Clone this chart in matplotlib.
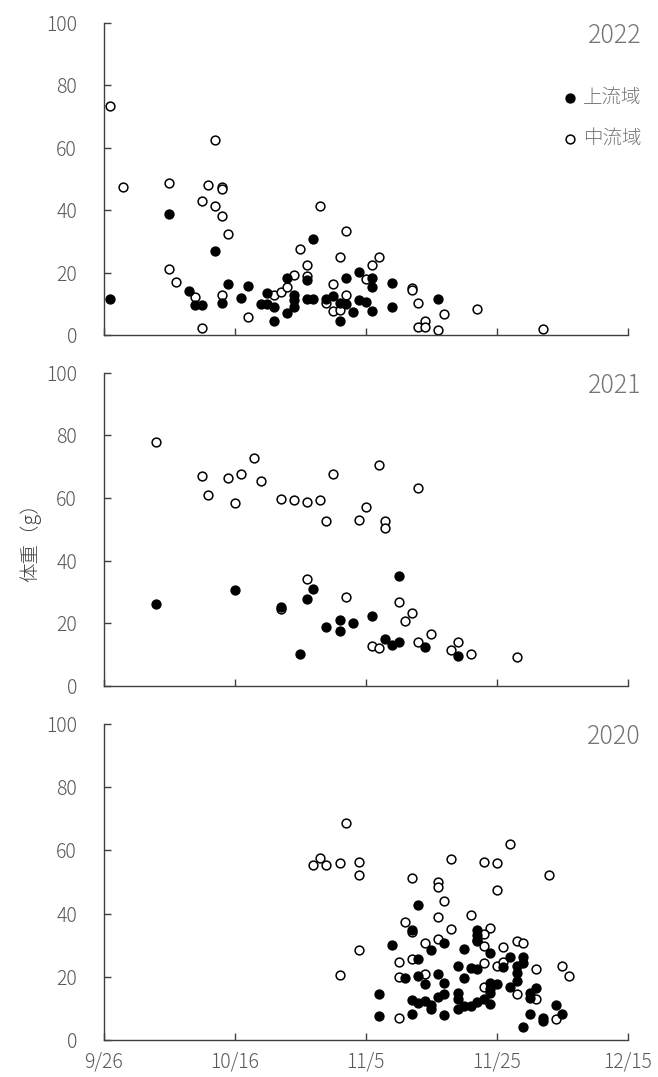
import matplotlib
matplotlib.use('Agg')
import matplotlib.pyplot as plt

plt.rcParams['font.family'] = ['Noto Sans CJK JP', 'DejaVu Sans']
plt.rcParams['font.weight'] = 'light'

# x = 9/26 からの日数
xticks = [0, 20, 40, 60, 80]
xtick_labels = ['9/26', '10/16', '11/5', '11/25', '12/15']
yticks = [0, 20, 40, 60, 80, 100]

# 2022
up22_day = [1, 10, 13, 14, 15, 17, 18, 19, 21, 22, 24, 25, 25, 26, 26, 28, 28, 29, 29, 29,
            31, 31, 32, 32, 34, 35, 36, 36, 37, 37, 38, 39, 39, 40, 41, 41, 41, 44, 44, 51]
up22_w = [11.5, 38.8, 14.2, 9.5, 9.5, 26.9, 10.3, 16.2, 11.9, 15.8, 9.8, 13.5, 9.8, 8.9, 4.4,
          18.1, 6.9, 12.9, 11.2, 8.9, 17.6, 11.5, 11.5, 30.6, 11.5, 12.5, 10.1, 4.4, 18.1, 9.8,
          7.3, 20.3, 11.2, 10.6, 18.1, 15.3, 7.8, 16.7, 8.9, 11.5]
mid22_day = [1, 3, 10, 10, 11, 14, 15, 15, 16, 17, 17, 18, 18, 18, 18, 19, 22, 26, 27, 28,
             29, 30, 31, 31, 33, 34, 35, 35, 36, 36, 37, 37, 40, 41, 42, 47, 47, 48, 48, 49,
             49, 51, 52, 57, 67]
mid22_w = [73.3, 47.3, 48.6, 21.0, 16.9, 12.3, 2.1, 43.0, 48.1, 62.4, 41.3, 47.3, 46.7, 38.2,
           12.9, 32.2, 5.8, 12.9, 13.7, 15.5, 19.2, 27.5, 22.3, 18.9, 41.3, 10.1, 16.3, 7.8,
           24.9, 8.0, 33.4, 12.9, 17.8, 22.3, 25.1, 14.9, 14.4, 10.3, 2.7, 4.5, 2.7, 1.6, 6.7,
           8.3, 1.8]

# 2021
up21_day = [8, 20, 27, 30, 31, 32, 34, 36, 36, 38, 41, 43, 44, 45, 45, 49, 54]
up21_w = [26.3, 30.6, 25.3, 10.1, 27.7, 31.1, 18.7, 21.2, 17.7, 20.2, 22.3, 14.9, 13.1, 35.1,
          14.1, 12.6, 9.6]
mid21_day = [8, 15, 16, 19, 20, 21, 23, 24, 27, 29, 31, 33, 34, 35, 37, 31, 27, 39, 40, 41,
             42, 42, 43, 43, 45, 46, 47, 48, 48, 50, 53, 54, 56, 63]
mid21_w = [77.8, 67.1, 61.0, 66.5, 58.3, 67.7, 72.7, 65.4, 59.7, 59.4, 58.8, 59.4, 52.6, 67.6,
           28.5, 34.1, 24.5, 52.9, 57.2, 12.7, 70.7, 12.0, 52.6, 50.4, 26.9, 20.9, 23.2, 63.3,
           14.0, 16.6, 11.5, 14.1, 10.2, 9.4]

# 2020
up20_day = [42, 42, 48, 47, 44, 52, 50, 55, 57, 57, 57, 59, 48, 54, 56, 57, 62, 64, 64, 63,
            61, 63, 63, 46, 48, 51, 55, 49, 52, 59, 59, 59, 60, 62, 54, 54, 52, 51, 47, 49,
            48, 50, 50, 54, 55, 56, 57, 58, 59, 65, 65, 66, 69, 47, 52, 65, 67, 67, 70, 64]
up20_w = [14.5, 7.6, 42.6, 34.8, 29.9, 30.6, 28.5, 28.8, 34.8, 33.2, 31.6, 27.4, 25.6, 23.5,
          22.9, 22.4, 26.1, 26.1, 24.3, 23.5, 23.2, 21.1, 18.7, 19.5, 20.3, 20.8, 19.7, 17.6,
          17.9, 17.9, 16.2, 14.8, 17.6, 16.7, 14.8, 13.0, 14.5, 13.7, 12.7, 12.3, 11.6, 11.1,
          9.7, 9.8, 10.8, 10.9, 12.1, 12.9, 11.4, 15.0, 13.2, 16.4, 11.2, 8.2, 7.9, 8.1, 6.9,
          6.1, 8.1, 4.2]
mid20_day = [32, 33, 34, 36, 37, 39, 39, 39, 36, 53, 47, 51, 51, 52, 58, 60, 60, 62, 68, 46,
             47, 51, 53, 56, 59, 58, 57, 58, 49, 51, 61, 63, 64, 45, 47, 58, 60, 61, 66, 70,
             71, 45, 49, 58, 63, 66, 45, 69]
mid20_w = [55.5, 57.7, 55.5, 55.9, 68.8, 56.4, 52.2, 28.5, 20.6, 57.4, 51.1, 50.1, 48.3, 44.0,
           56.4, 55.9, 47.4, 61.9, 52.3, 37.3, 34.3, 39.0, 35.2, 39.6, 35.5, 33.4, 31.4, 29.7,
           30.6, 31.9, 29.5, 31.2, 30.7, 24.6, 25.7, 24.3, 23.5, 24.8, 22.5, 23.3, 20.3, 20.0,
           20.9, 16.9, 14.6, 13.0, 6.9, 6.5]

panels = [
    ('2022', up22_day, up22_w, mid22_day, mid22_w),
    ('2021', up21_day, up21_w, mid21_day, mid21_w),
    ('2020', up20_day, up20_w, mid20_day, mid20_w),
]

fig = plt.figure(figsize=(6.58, 10.77), dpi=100)
positions = [
    [0.1573, 0.6890, 0.7971, 0.2899],
    [0.1573, 0.3630, 0.7971, 0.2909],
    [0.1573, 0.0344, 0.7971, 0.2934],
]

spine_color = '#404040'
tick_color = '#595959'
label_gray = '#767676'

for i, (year, ud, uw, md, mw) in enumerate(panels):
    ax = fig.add_axes(positions[i])
    ax.scatter(md, mw, s=40, facecolor='white', edgecolor='black', linewidth=1.1,
               label='中流域', zorder=2)
    ax.scatter(ud, uw, s=40, facecolor='black', edgecolor='black', linewidth=1.1,
               label='上流域', zorder=3)
    ax.set_xlim(0, 80)
    ax.set_ylim(0, 100)
    ax.set_xticks(xticks)
    ax.set_yticks(yticks)
    if i == 2:
        ax.set_xticklabels(xtick_labels)
    else:
        ax.set_xticklabels([])
    ax.spines['top'].set_visible(False)
    ax.spines['right'].set_visible(False)
    for s in ['left', 'bottom']:
        ax.spines[s].set_color(spine_color)
        ax.spines[s].set_linewidth(1.0)
    ax.tick_params(axis='both', direction='in', length=5, width=1.0, color=spine_color,
                   labelcolor=tick_color, labelsize=14)
    ax.tick_params(axis='y', pad=19)
    ax.tick_params(axis='x', pad=8)
    ax.text(1.025, 0.958, year, transform=ax.transAxes, ha='right', va='center',
            fontsize=18, color=label_gray)
    if i == 0:
        h, l = ax.get_legend_handles_labels()
        ax.legend(h[::-1], l[::-1], loc='upper right', bbox_to_anchor=(1.025, 0.795),
                  frameon=False, borderpad=0, borderaxespad=0, handlelength=0.8,
                  handletextpad=0.25, labelspacing=1.05, fontsize=14, labelcolor=label_gray,
                  markerscale=1.0)

fig.text(0.046, 0.501, '体重（g）', rotation=90, ha='center', va='center',
         fontsize=14, color='#404040')

fig.savefig('out.png', dpi=100)
